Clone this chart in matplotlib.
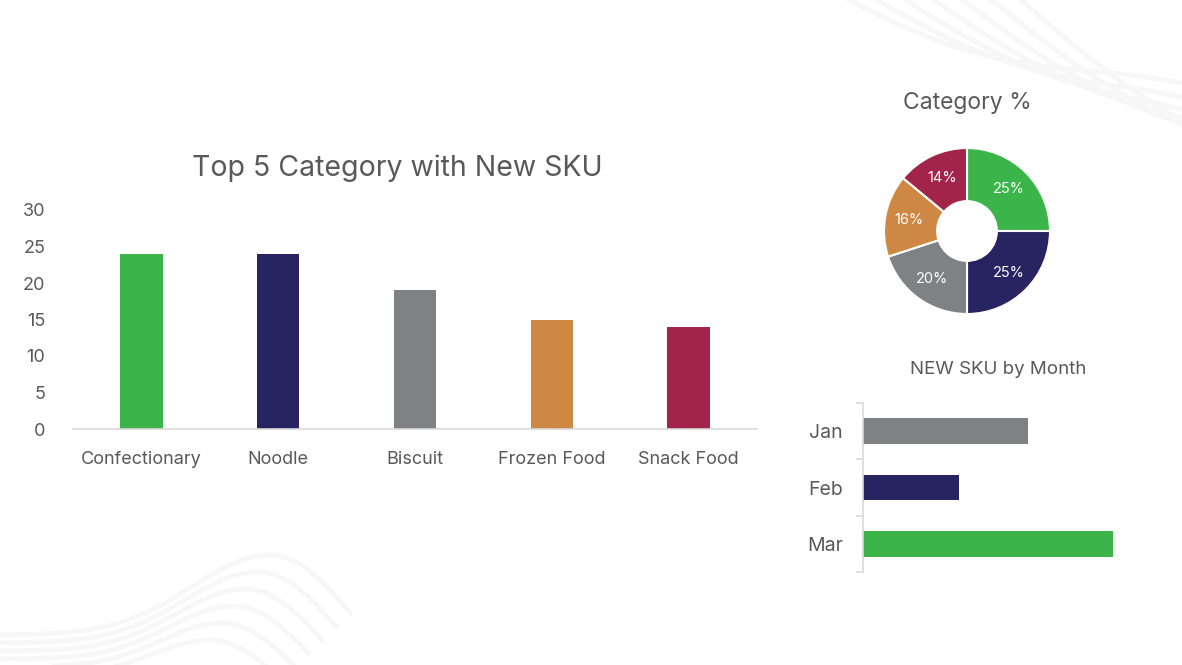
import matplotlib
matplotlib.use("Agg")
import matplotlib.pyplot as plt
import numpy as np

plt.rcParams['font.family'] = ['Inter', 'DejaVu Sans']

# data
categories = ['Confectionary', 'Noodle', 'Biscuit', 'Frozen Food', 'Snack Food']
new_sku = [24, 24, 19, 15, 14]
share_pct = [25, 25, 20, 16, 14]
months = ['Jan', 'Feb', 'Mar']
month_sku = [31, 18, 47]

cat_colors = ['#3bb54a', '#282462', '#808184', '#cf8744', '#a3244a']
month_colors = ['#808184', '#282462', '#3bb54a']
text_col = '#595959'
line_col = '#d9d9d9'

W, H = 1182, 665
fig = plt.figure(figsize=(W / 100, H / 100), dpi=100)


def box(x0, y0, x1, y1):
    # pixel box (top-left origin) -> figure fraction
    return [x0 / W, 1 - y1 / H, (x1 - x0) / W, (y1 - y0) / H]


# faint background waves (decoration only)
bg = fig.add_axes([0, 0, 1, 1], zorder=-1)
bg.set_xlim(0, W)
bg.set_ylim(H, 0)
bg.axis('off')
t = np.linspace(0, 1, 200)
for k in range(7):
    xs = 830 + k * 30 + t * 420
    ys = -10 + t * (130 + k * 25) + 18 * np.sin(t * np.pi * 1.6)
    bg.plot(xs, ys, color='#f7f7f7', lw=3.5, solid_capstyle='round')
for k in range(6):
    xs = np.linspace(-10, 350 - k * 14, 200)
    peak = 270 - k * 12
    ys = 635 + k * 8 - (80 - k * 9) * np.exp(-((xs - peak) / (110 - k * 6)) ** 2) \
        + np.clip(xs - peak, 0, None) ** 2 * 0.004
    bg.plot(xs, ys, color='#f7f7f7', lw=3.5)

# --- column chart
ax = fig.add_axes(box(73, 210, 757, 429))
x = np.arange(len(categories))
ax.bar(x, new_sku, width=0.31, color=cat_colors)
ax.set_xlim(-0.5, len(categories) - 0.5)
ax.set_ylim(0, 30)
ax.set_yticks(range(0, 31, 5))
ax.set_xticks(x)
ax.set_xticklabels(categories)
for s in ['top', 'right', 'left']:
    ax.spines[s].set_visible(False)
ax.spines['bottom'].set_color(line_col)
ax.spines['bottom'].set_linewidth(1.2)
ax.tick_params(axis='y', length=0, pad=20, labelsize=13, labelcolor=text_col)
ax.tick_params(axis='x', length=0, pad=16, labelsize=13, labelcolor=text_col)
fig.text(397 / W, 1 - 168 / H, 'Top 5 Category with New SKU', ha='center', va='center',
         fontsize=20.5, color=text_col)

# --- donut
axp = fig.add_axes(box(884, 148, 1050, 314))
wedges, _ = axp.pie(share_pct, colors=cat_colors, startangle=90, counterclock=False,
                    radius=1, wedgeprops=dict(width=0.64, edgecolor='white', linewidth=1.5))
axp.set_xlim(-1, 1)
axp.set_ylim(-1, 1)
for w, p in zip(wedges, share_pct):
    ang = np.deg2rad((w.theta1 + w.theta2) / 2)
    r = 0.71
    axp.text(r * np.cos(ang), r * np.sin(ang), f'{p}%', ha='center', va='center',
             color='white', fontsize=10.5)
fig.text(967 / W, 1 - 103 / H, 'Category %', ha='center', va='center',
         fontsize=16.5, color=text_col)

# --- horizontal bars
axh = fig.add_axes(box(863, 403, 1118, 572))
y = np.arange(len(months))
axh.barh(y, month_sku, height=0.46, color=month_colors)
axh.set_ylim(len(months) - 0.5, -0.5)
axh.set_xlim(0, 48)
axh.set_yticks(y)
axh.set_yticklabels(months)
axh.set_yticks(np.arange(-0.5, len(months)), minor=True)
axh.set_xticks([])
for s in ['top', 'right', 'bottom']:
    axh.spines[s].set_visible(False)
axh.spines['left'].set_color(line_col)
axh.spines['left'].set_linewidth(1.2)
axh.tick_params(axis='y', which='major', length=0, pad=20, labelsize=14, labelcolor=text_col)
for lab in axh.get_yticklabels():
    lab.set_horizontalalignment('center')
    lab.set_x(-0.038)
axh.tick_params(axis='y', which='minor', length=5, color=line_col, width=1.2)
fig.text(998 / W, 1 - 369 / H, 'NEW SKU by Month', ha='center', va='center',
         fontsize=13.5, color=text_col)

fig.savefig('out.png', dpi=100, facecolor='white')
